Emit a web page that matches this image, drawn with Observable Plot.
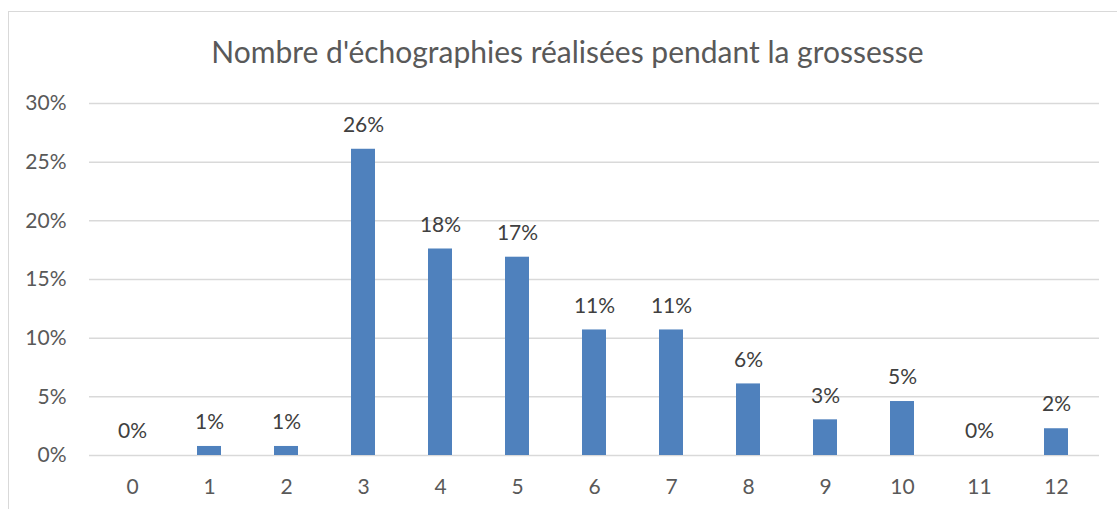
<!DOCTYPE html>
<html><head><meta charset="utf-8">
<script src="https://cdn.jsdelivr.net/npm/d3@7"></script>
<script src="https://cdn.jsdelivr.net/npm/@observablehq/plot@0.6"></script>
<style>
html,body{margin:0;padding:0;width:1117px;height:509px;overflow:hidden;background:#fff;font-family:Lato,"Open Sans",sans-serif;}
#frame{position:absolute;left:8px;top:11px;width:1130px;height:520px;border:1px solid #d9d9d9;box-sizing:border-box;}
#wrap{position:absolute;left:0;top:0;width:1117px;}
#title{height:80px;line-height:102px;text-align:center;font-size:30px;color:#595959;padding-left:18px;box-sizing:border-box;}
</style></head>
<body>
<div id="frame"></div>
<div id="wrap"><div id="title">Nombre d'échographies réalisées pendant la grossesse</div><div id="chart"></div></div>
<script>
const categories = ["0","1","2","3","4","5","6","7","8","9","10","11","12"];
const values = [0, 0.0077, 0.0077, 0.261, 0.176, 0.169, 0.107, 0.107, 0.061, 0.0304, 0.046, 0, 0.0228];
const yTicks = [0, 0.05, 0.10, 0.15, 0.20, 0.25, 0.30];

const data = categories.map((c, i) => ({cat: c, v: values[i]}));
const fmt = d3.format(".0%");

const chart = Plot.plot({
  width: 1117,
  height: 429,
  marginTop: 23,
  marginBottom: 54,
  marginLeft: 89,
  marginRight: 18,
  style: {fontFamily: "Lato, 'Open Sans', sans-serif", fontSize: "21px", color: "#595959", background: "transparent"},
  x: {domain: categories, paddingInner: 0.69, paddingOuter: 0.345, label: null},
  y: {domain: [0, 0.30], label: null},
  marks: [
    Plot.gridY(yTicks, {stroke: "#d9d9d9", strokeOpacity: 1, strokeWidth: 1.5}),
    Plot.barY(data, {x: "cat", y: "v", fill: "#4f81bd"}),
    Plot.text(data, {x: "cat", y: "v", text: d => fmt(d.v), dy: -24, fill: "#404040", fontSize: 21}),
    Plot.axisX({tickSize: 0, tickPadding: 24, fontSize: 21}),
    Plot.axisY({ticks: yTicks, tickFormat: fmt, tickSize: 0, tickPadding: 23, fontSize: 21})
  ]
});
document.getElementById("chart").appendChild(chart);
</script>
</body></html>
